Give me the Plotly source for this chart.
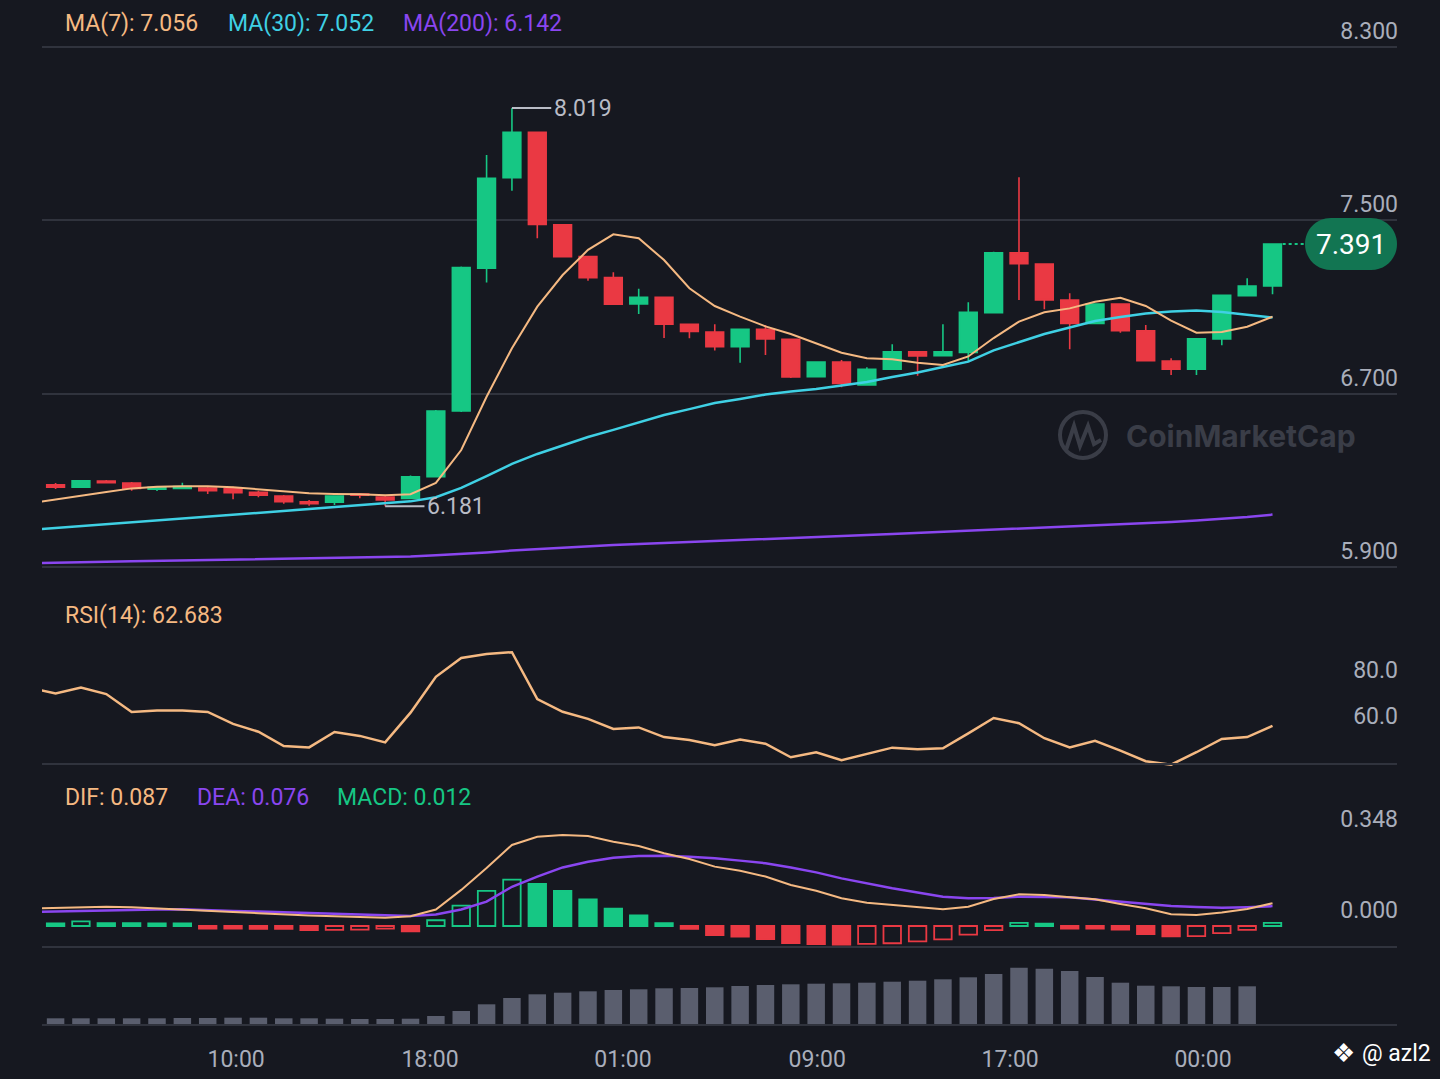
import plotly.graph_objects as go

W, H = 1440, 1079

# hourly candles, index 0..48
opens = [6.279, 6.268, 6.297, 6.288, 6.259, 6.263, 6.265, 6.261, 6.245, 6.228,
         6.201, 6.199, 6.237, 6.223, 6.217, 6.317, 6.620, 7.279, 7.697, 7.907,
         7.480, 7.333, 7.236, 7.114, 7.145, 7.021, 6.985, 6.917, 6.997, 6.951,
         6.779, 6.846, 6.740, 6.813, 6.893, 6.876, 6.891, 7.074, 7.351, 7.299,
         7.133, 7.025, 7.114, 6.990, 6.851, 6.813, 6.953, 7.153, 7.197]
highs = [6.288, 6.299, 6.302, 6.292, 6.272, 6.289, 6.269, 6.271, 6.252, 6.232,
         6.209, 6.230, 6.240, 6.230, 6.322, 6.625, 7.287, 7.802, 8.019, 7.911,
         7.482, 7.335, 7.261, 7.185, 7.147, 7.023, 7.021, 7.001, 7.017, 6.953,
         6.847, 6.856, 6.822, 6.928, 6.894, 7.021, 7.122, 7.355, 7.699, 7.300,
         7.164, 7.117, 7.117, 7.017, 6.864, 6.955, 7.156, 7.233, 7.393]
lows = [6.260, 6.265, 6.286, 6.252, 6.251, 6.259, 6.237, 6.213, 6.222, 6.192,
        6.183, 6.186, 6.217, 6.181, 6.214, 6.313, 6.616, 7.213, 7.637, 7.418,
        7.330, 7.222, 7.110, 7.068, 6.957, 6.956, 6.900, 6.843, 6.879, 6.773,
        6.778, 6.730, 6.738, 6.811, 6.783, 6.874, 6.848, 7.072, 7.133, 7.090,
        6.905, 7.023, 6.982, 6.850, 6.786, 6.786, 6.924, 7.151, 7.159]
closes = [6.269, 6.298, 6.289, 6.263, 6.268, 6.271, 6.252, 6.243, 6.231, 6.201,
          6.192, 6.228, 6.231, 6.209, 6.317, 6.620, 7.282, 7.695, 7.907, 7.482,
          7.333, 7.236, 7.113, 7.145, 7.021, 6.988, 6.917, 6.997, 6.953, 6.777,
          6.846, 6.748, 6.813, 6.893, 6.874, 6.893, 7.076, 7.351, 7.300, 7.133,
          7.025, 7.114, 6.991, 6.852, 6.813, 6.953, 7.154, 7.197, 7.391]
volumes = [6.7, 6.7, 6.7, 6.7, 6.7, 7.0, 7.0, 7.3, 7.3, 6.7,
           6.7, 6.3, 6.0, 6.0, 6.3, 9.0, 14.0, 20.7, 27.0, 30.7,
           32.3, 33.7, 35.0, 35.7, 36.7, 37.0, 37.7, 39.0, 40.0, 40.7,
           41.3, 41.7, 42.3, 43.3, 44.3, 45.7, 47.7, 51.0, 57.3, 56.3,
           54.0, 48.0, 42.3, 39.3, 38.7, 38.0, 38.0, 38.7, None]

# indicator lines start one bar before the first visible candle (index -1..48)
ma7 = [6.195, 6.213, 6.229, 6.246, 6.263, 6.271, 6.273, 6.273, 6.268, 6.259,
       6.249, 6.240, 6.237, 6.236, 6.231, 6.236, 6.288, 6.440, 6.686, 6.910,
       7.102, 7.248, 7.364, 7.436, 7.418, 7.317, 7.187, 7.105, 7.056, 7.011,
       6.976, 6.933, 6.889, 6.864, 6.859, 6.843, 6.833, 6.872, 6.957, 7.033,
       7.076, 7.094, 7.125, 7.143, 7.105, 7.037, 6.982, 6.985, 7.009, 7.056]
ma30 = [6.071, 6.080, 6.087, 6.096, 6.106, 6.115, 6.124, 6.134, 6.143, 6.152,
        6.161, 6.170, 6.178, 6.186, 6.194, 6.203, 6.222, 6.265, 6.320, 6.376,
        6.422, 6.461, 6.500, 6.533, 6.569, 6.602, 6.629, 6.657, 6.676, 6.696,
        6.710, 6.722, 6.738, 6.754, 6.777, 6.798, 6.823, 6.848, 6.900, 6.939,
        6.976, 7.006, 7.036, 7.054, 7.070, 7.080, 7.084, 7.077, 7.064, 7.052]
ma200 = [5.918, 5.921, 5.922, 5.924, 5.926, 5.928, 5.930, 5.931, 5.933, 5.935,
         5.937, 5.939, 5.941, 5.942, 5.945, 5.948, 5.954, 5.960, 5.967, 5.976,
         5.983, 5.990, 5.997, 6.002, 6.006, 6.011, 6.015, 6.020, 6.025, 6.029,
         6.034, 6.039, 6.043, 6.048, 6.052, 6.057, 6.062, 6.066, 6.073, 6.078,
         6.082, 6.087, 6.094, 6.099, 6.103, 6.108, 6.115, 6.122, 6.131, 6.142]
rsi = [79.1, 76.8, 79.3, 76.5, 68.7, 69.3, 69.4, 68.7, 63.5, 60.1,
       53.9, 53.3, 60.0, 58.3, 55.5, 68.4, 84.0, 92.2, 93.9, 94.7,
       74.3, 68.8, 65.7, 61.3, 62.0, 57.8, 56.5, 54.2, 56.7, 54.9,
       49.0, 51.2, 47.7, 50.3, 53.2, 52.5, 52.9, 59.4, 66.1, 63.8,
       57.3, 53.3, 56.2, 51.9, 47.3, 45.8, 51.2, 57.0, 57.8, 62.683]
dif = [0.067, 0.069, 0.072, 0.074, 0.072, 0.068, 0.064, 0.059, 0.054, 0.049,
       0.044, 0.040, 0.037, 0.034, 0.032, 0.037, 0.063, 0.138, 0.222, 0.310,
       0.341, 0.348, 0.344, 0.322, 0.306, 0.278, 0.256, 0.227, 0.211, 0.189,
       0.157, 0.135, 0.106, 0.089, 0.080, 0.072, 0.064, 0.074, 0.103, 0.121,
       0.119, 0.110, 0.102, 0.084, 0.068, 0.045, 0.042, 0.052, 0.065, 0.087]
dea = [0.054, 0.056, 0.059, 0.061, 0.062, 0.063, 0.064, 0.060, 0.057, 0.055,
       0.052, 0.050, 0.047, 0.045, 0.042, 0.038, 0.044, 0.063, 0.093, 0.150,
       0.189, 0.224, 0.246, 0.261, 0.268, 0.269, 0.265, 0.259, 0.250, 0.240,
       0.224, 0.205, 0.182, 0.163, 0.144, 0.128, 0.112, 0.106, 0.107, 0.112,
       0.112, 0.110, 0.101, 0.093, 0.084, 0.076, 0.073, 0.070, 0.072, 0.076]
# MACD histogram, index 0..48
macd_hist = [0.010, 0.018, 0.011, 0.011, 0.010, 0.010, -0.010, -0.010, -0.011, -0.011,
             -0.016, -0.015, -0.014, -0.010, -0.020, 0.022, 0.078, 0.134, 0.177, 0.161,
             0.134, 0.102, 0.066, 0.041, 0.011, -0.011, -0.035, -0.041, -0.050, -0.065,
             -0.069, -0.071, -0.068, -0.066, -0.059, -0.051, -0.033, -0.016, 0.012, 0.009,
             -0.010, -0.010, -0.014, -0.031, -0.040, -0.039, -0.027, -0.015, 0.012]

time_labels = ["10:00", "18:00", "01:00", "09:00", "17:00", "00:00"]
time_label_pos = [7.12, 14.77, 22.38, 30.04, 37.65, 45.26]

BG = "#161820"
GRID = "#30333d"
TXT = "#a9aebb"
GREEN = "#16c784"
RED = "#ea3943"
ORANGE = "#f5b982"
CYAN = "#3fd0e4"
PURPLE = "#8a46f0"
VOLC = "#5a5e6e"
FONT = "Roboto"

n = len(closes)
idx = list(range(n))
idx_ind = list(range(-1, n))


def fx(px):
    return px / W


def fy(px):
    return 1 - px / H


fig = go.Figure()

# ---- price panel
fig.add_trace(go.Candlestick(
    x=idx, open=opens, high=highs, low=lows, close=closes,
    increasing=dict(line=dict(color=GREEN, width=1.6), fillcolor=GREEN),
    decreasing=dict(line=dict(color=RED, width=1.6), fillcolor=RED),
    whiskerwidth=0, xaxis="x", yaxis="y", showlegend=False, hoverinfo="skip"))
for vals, col, w in [(ma200, PURPLE, 2.5), (ma30, CYAN, 2.5), (ma7, ORANGE, 2)]:
    fig.add_trace(go.Scatter(x=idx_ind, y=vals, mode="lines",
                             line=dict(color=col, width=w),
                             xaxis="x", yaxis="y", showlegend=False, hoverinfo="skip"))

# max / min markers
hi_i = highs.index(max(highs))
lo_i = lows.index(min(lows))
for xi, yv in [(hi_i, highs[hi_i]), (lo_i, lows[lo_i])]:
    fig.add_trace(go.Scatter(x=[xi, xi + 1.55], y=[yv, yv], mode="lines",
                             line=dict(color="#b9bcc6", width=2),
                             xaxis="x", yaxis="y", showlegend=False, hoverinfo="skip"))
    fig.add_annotation(x=xi + 1.55, y=yv, xref="x", yref="y", text=f"{yv:.3f}",
                       showarrow=False, xanchor="left", yanchor="middle", xshift=1,
                       font=dict(family=FONT, size=23, color="#b9bcc6"))

# ---- RSI panel
fig.add_trace(go.Scatter(x=idx_ind, y=rsi, mode="lines", line=dict(color=ORANGE, width=2.5),
                         xaxis="x", yaxis="y2", showlegend=False, hoverinfo="skip"))

# ---- MACD panel
fill_cols, line_cols = [], []
for i, h in enumerate(macd_hist):
    c = GREEN if h >= 0 else RED
    rising = i > 0 and h > macd_hist[i - 1]
    fill_cols.append("rgba(0,0,0,0)" if rising else c)
    line_cols.append(c)
fig.add_trace(go.Bar(x=idx, y=macd_hist,
                     marker=dict(color=fill_cols, line=dict(color=line_cols, width=1.8)),
                     xaxis="x", yaxis="y3", showlegend=False, hoverinfo="skip"))
fig.add_trace(go.Scatter(x=idx_ind, y=dea, mode="lines", line=dict(color=PURPLE, width=2.5),
                         xaxis="x", yaxis="y3", showlegend=False, hoverinfo="skip"))
fig.add_trace(go.Scatter(x=idx_ind, y=dif, mode="lines", line=dict(color=ORANGE, width=2),
                         xaxis="x", yaxis="y3", showlegend=False, hoverinfo="skip"))

# ---- volume panel
fig.add_trace(go.Bar(x=idx, y=volumes, marker=dict(color=VOLC, line=dict(width=0)),
                     xaxis="x", yaxis="y4", showlegend=False, hoverinfo="skip"))

# separators
for row in [764, 947, 1025]:
    fig.add_shape(type="line", xref="paper", yref="paper", x0=fx(42), x1=fx(1397),
                  y0=fy(row), y1=fy(row), line=dict(color=GRID, width=2))

# last price line + badge
last = closes[-1]
fig.add_shape(type="line", xref="x", yref="y", x0=n - 1 + 0.4, x1=n - 1 + 1.3,
              y0=last, y1=last, line=dict(color=GREEN, width=2, dash="dot"))
fig.add_shape(type="path", xref="paper", yref="y", xsizemode="pixel", ysizemode="pixel",
              xanchor=fx(1397), yanchor=last,
              path="M -66,-26 L -26,-26 C -11,-26 0,-14 0,0 C 0,14 -11,26 -26,26 "
                   "L -66,26 C -81,26 -92,14 -92,0 C -92,-14 -81,-26 -66,-26 Z",
              fillcolor="#127552", line=dict(width=0))
fig.add_annotation(x=fx(1351), y=last, xref="paper", yref="y", text=f"{last:.3f}",
                   showarrow=False, xanchor="center", yanchor="middle",
                   font=dict(family=FONT, size=28, color="#ffffff"))

# watermark
fig.add_shape(type="circle", xref="paper", yref="paper", x0=fx(1060), x1=fx(1106),
              y0=fy(458), y1=fy(412), line=dict(color="#3a3d47", width=4))
fig.add_shape(type="path", xref="paper", yref="paper",
              path=f"M {fx(1066)},{fy(450)} L {fx(1074)},{fy(426)} L {fx(1080)},{fy(446)} "
                   f"L {fx(1088)},{fy(426)} L {fx(1094)},{fy(444)} L {fx(1101)},{fy(440)}",
              line=dict(color="#3a3d47", width=4))
fig.add_annotation(x=fx(1124), y=fy(436), xref="paper", yref="paper", text="CoinMarketCap",
                   showarrow=False, xanchor="left", yanchor="middle",
                   font=dict(family="Inter", size=30, color="#3a3d47", weight="bold"))

# legends
def label(x, y, text, color):
    fig.add_annotation(x=fx(x), y=fy(y), xref="paper", yref="paper", text=text,
                       showarrow=False, xanchor="left", yanchor="middle",
                       font=dict(family=FONT, size=23, color=color))


label(63, 24, f"MA(7): {ma7[-1]:.3f}", ORANGE)
label(226, 24, f"MA(30): {ma30[-1]:.3f}", CYAN)
label(401, 24, f"MA(200): {ma200[-1]:.3f}", PURPLE)
label(63, 615, f"RSI(14): {rsi[-1]:.3f}", ORANGE)
label(63, 797, f"DIF: {dif[-1]:.3f}", ORANGE)
label(195, 797, f"DEA: {dea[-1]:.3f}", PURPLE)
label(335, 797, f"MACD: {macd_hist[-1]:.3f}", GREEN)

fig.add_annotation(x=fx(1343), y=fy(1053), xref="paper", yref="paper", text="❖",
                   showarrow=False, xanchor="center", yanchor="middle",
                   font=dict(family="DejaVu Sans", size=26, color="#ffffff"))
fig.add_annotation(x=fx(1433), y=fy(1053), xref="paper", yref="paper", text="@ azl2",
                   showarrow=False, xanchor="right", yanchor="middle",
                   font=dict(family=FONT, size=23, color="#ffffff"))

yax = dict(side="right", anchor="x", ticklabelposition="inside top", showline=False,
           zeroline=False, ticks="", ticklabelstandoff=-4,
           tickfont=dict(family=FONT, size=23, color=TXT), fixedrange=True)

fig.update_layout(
    width=W, height=H, margin=dict(l=0, r=0, t=0, b=0),
    paper_bgcolor=BG, plot_bgcolor=BG,
    showlegend=False, hovermode=False,
    barmode="overlay", bargap=0.31, boxgap=0.3, boxgroupgap=0,
    xaxis=dict(domain=[fx(42), fx(1397)], range=[-0.536, 52.91], anchor="y4",
               rangeslider=dict(visible=False), showgrid=False, zeroline=False,
               showline=False, tickvals=time_label_pos, ticktext=time_labels,
               ticks="", ticklabelstandoff=18,
               tickfont=dict(family=FONT, size=23, color=TXT)),
    yaxis=dict(yax, domain=[fy(580), fy(2)], range=[5.840, 8.5085],
               tickvals=[5.9, 6.7, 7.5, 8.3], tickformat=".3f",
               showgrid=True, gridcolor=GRID, gridwidth=2),
    yaxis2=dict(yax, domain=[fy(770), fy(600)], range=[43.478, 117.391],
                tickvals=[60, 80], tickformat=".1f", showgrid=False),
    yaxis3=dict(yax, domain=[fy(955), fy(780)], range=[-0.1109, 0.5583],
                tickvals=[0, max(dif)], tickformat=".3f", showgrid=False),
    yaxis4=dict(yax, domain=[fy(1025), fy(950)], range=[0, 75],
                showticklabels=False, showgrid=False),
)

fig.write_html("out.html", config={"displayModeBar": False},
               post_script="document.body.style.margin = '0';")
